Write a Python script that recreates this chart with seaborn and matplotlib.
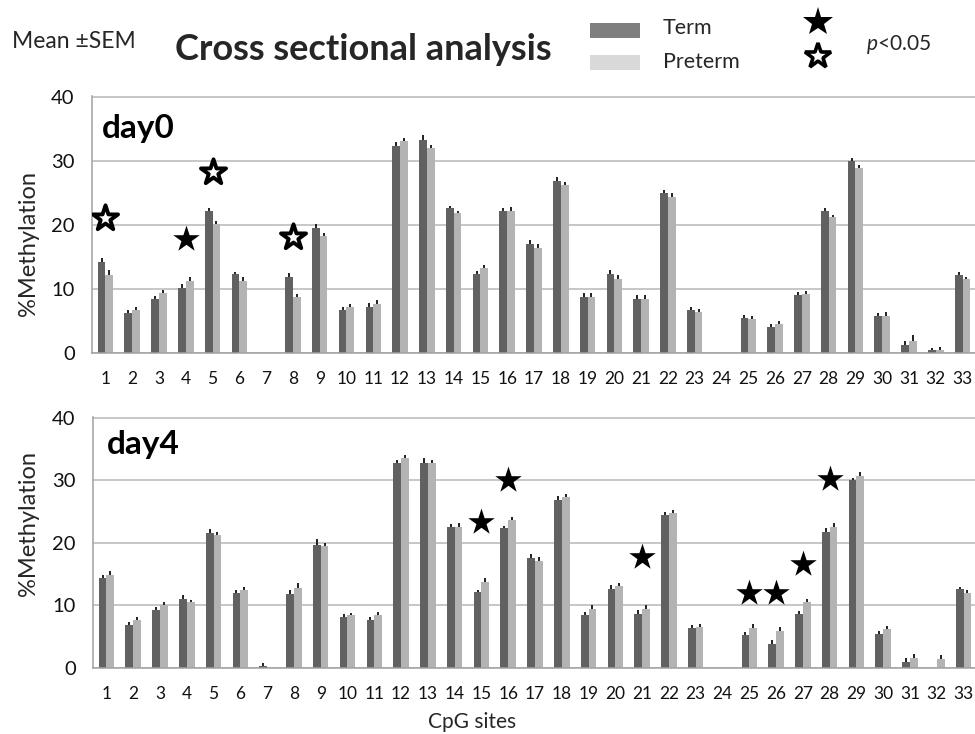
import numpy as np
import pandas as pd
import matplotlib
matplotlib.use("Agg")
import matplotlib.pyplot as plt
from matplotlib.patches import Rectangle
from matplotlib.lines import Line2D
import seaborn as sns

nan = np.nan
sites = [str(i) for i in range(1, 34)]
groups = ["Term", "Preterm"]

# Mean % methylation per CpG site (NaN = not measured)
day0_term = [14.2, 6.3, 8.4, 10.2, 22.1, 12.3, nan, 11.9, 19.5, 6.7, 7.2, 32.3, 33.3, 22.6, 12.3, 22.2, 17.0,
             26.8, 8.7, 12.4, 8.5, 25.0, 6.7, nan, 5.4, 4.1, 9.0, 22.1, 29.9, 5.8, 1.2, 0.4, 12.1]
day0_pre = [12.1, 6.7, 9.4, 11.3, 20.1, 11.3, nan, 8.7, 18.2, 7.2, 7.7, 33.1, 32.0, 21.8, 13.2, 22.2, 16.4,
            26.2, 8.7, 11.6, 8.5, 24.4, 6.4, nan, 5.3, 4.5, 9.2, 21.2, 28.9, 5.8, 1.9, 0.5, 11.5]
day4_term = [14.3, 6.9, 9.3, 11.1, 21.6, 12.0, 0.3, 11.8, 19.6, 8.1, 7.6, 32.7, 32.7, 22.6, 12.1, 22.3, 17.6,
             26.9, 8.4, 12.7, 8.7, 24.5, 6.4, nan, 5.3, 3.9, 8.6, 21.8, 30.0, 5.5, 1.0, nan, 12.6]
day4_pre = [14.8, 7.7, 10.1, 10.5, 21.3, 12.4, nan, 12.8, 19.5, 8.4, 8.4, 33.5, 32.7, 22.6, 13.8, 23.6, 17.1,
            27.3, 9.4, 13.1, 9.5, 24.7, 6.5, nan, 6.4, 5.9, 10.6, 22.6, 30.7, 6.2, 1.6, 1.4, 12.0]

# Standard error of the mean
day0_term_sem = [0.6, 0.4, 0.5, 0.5, 0.5, 0.4, nan, 0.6, 0.6, 0.5, 0.6, 0.6, 0.7, 0.4, 0.5, 0.5, 0.6,
                 0.6, 0.6, 0.6, 0.6, 0.5, 0.4, nan, 0.6, 0.5, 0.5, 0.6, 0.5, 0.5, 0.6, 0.4, 0.5]
day0_pre_sem = [0.9, 0.5, 0.5, 0.5, 0.5, 0.5, nan, 0.5, 0.5, 0.5, 0.5, 0.5, 0.4, 0.4, 0.6, 0.6, 0.6,
                0.5, 0.6, 0.6, 0.6, 0.6, 0.4, nan, 0.5, 0.5, 0.5, 0.4, 0.5, 0.6, 0.9, 0.5, 0.4]
day4_term_sem = [0.6, 0.4, 0.5, 0.5, 0.6, 0.5, 0.5, 0.7, 1.0, 0.5, 0.5, 0.5, 0.8, 0.4, 0.4, 0.4, 0.6,
                 0.5, 0.5, 0.5, 0.5, 0.4, 0.5, nan, 0.4, 0.5, 0.5, 0.5, 0.4, 0.4, 0.6, nan, 0.4]
day4_pre_sem = [0.7, 0.5, 0.5, 0.4, 0.5, 0.5, nan, 0.7, 0.4, 0.4, 0.5, 0.5, 0.6, 0.5, 0.5, 0.6, 0.6,
                0.5, 0.6, 0.5, 0.6, 0.5, 0.5, nan, 0.6, 0.6, 0.5, 0.5, 0.6, 0.5, 0.7, 0.6, 0.4]

# Significance markers (p<0.05): site and marker height
day0_filled_sites, day0_filled_y = [4], [17.8]
day0_open_sites, day0_open_y = [1, 5, 8], [21.1, 28.3, 18.1]
day4_filled_sites = [15, 16, 21, 25, 26, 27, 28]
day4_filled_y = [23.4, 30.0, 17.7, 12.0, 12.0, 16.6, 30.2]

TERM_C = "#616161"
PRE_C = "#b3b3b3"
GRID_C = "#b8b8b8"
AXIS_C = "#a0a0a0"

sns.set_style("white")
plt.rcParams["font.family"] = ["Lato", "DejaVu Sans"]
plt.rcParams["mathtext.fontset"] = "custom"
plt.rcParams["mathtext.it"] = "Lato:italic"
plt.rcParams["mathtext.rm"] = "Lato"

W, H = 975, 734
fig = plt.figure(figsize=(W / 100, H / 100), dpi=100)


def fx(px):
    return px / W


def fy(py):
    return 1 - py / H


def panel(rect, term, pre, term_sem, pre_sem, label, label_xy):
    ax = fig.add_axes(rect)
    df = pd.DataFrame({
        "site": sites * 2,
        "group": ["Term"] * len(sites) + ["Preterm"] * len(sites),
        "value": term + pre,
    })
    sns.barplot(data=df, x="site", y="value", hue="group", order=sites, hue_order=groups,
                palette=[TERM_C, PRE_C], width=0.58, errorbar=None, saturation=1,
                legend=False, linewidth=0, ax=ax)
    # upper-only SEM whiskers
    for cont, vals, sems in zip(ax.containers, [term, pre], [term_sem, pre_sem]):
        for bar in cont:
            xc = bar.get_x() + bar.get_width() / 2
            i = int(round(xc))
            if np.isnan(vals[i]) or np.isnan(sems[i]):
                continue
            ax.errorbar(xc, vals[i], yerr=[[0], [sems[i]]], fmt="none",
                        ecolor="#202020", elinewidth=1.4, capsize=0, zorder=3)
    ax.set_xlim(-0.5, len(sites) - 0.5)
    ax.set_ylim(0, 40.1)
    ax.set_yticks([0, 10, 20, 30, 40])
    ax.yaxis.grid(True, color=GRID_C, lw=1.1)
    ax.set_axisbelow(True)
    for s in ["top", "right"]:
        ax.spines[s].set_visible(False)
    for s in ["left", "bottom"]:
        ax.spines[s].set_color(AXIS_C)
        ax.spines[s].set_linewidth(1.1)
    ax.tick_params(axis="y", length=6.5, width=1.1, color=AXIS_C, labelsize=14.5,
                   labelcolor="#111111", pad=6)
    ax.set_xticks(range(len(sites)))
    ax.set_xticklabels(sites)
    ax.set_xticks(np.arange(-0.5, len(sites), 1), minor=True)
    ax.tick_params(axis="x", which="major", length=0, labelsize=12.5, labelcolor="#111111", pad=13)
    ax.tick_params(axis="x", which="minor", length=4.5, width=1.1, color=AXIS_C)
    ax.set_xlabel("")
    ax.set_ylabel("")
    ax.text(label_xy[0], label_xy[1], label, transform=ax.transAxes, fontsize=24,
            fontweight="bold", ha="left", va="center", color="black")
    return ax


ax0 = panel([fx(92), fy(353), fx(884), (353 - 96) / H], day0_term, day0_pre,
            day0_term_sem, day0_pre_sem, "day0", (0.011, 0.872))
ax1 = panel([fx(93), fy(668), fx(884), (668 - 417) / H], day4_term, day4_pre,
            day4_term_sem, day4_pre_sem, "day4", (0.016, 0.892))

# significance stars
ax0.scatter([s - 1 for s in day0_filled_sites], day0_filled_y, marker="*", s=400,
            color="black", zorder=4, linewidths=0)
ax0.scatter([s - 1 for s in day0_open_sites], day0_open_y, marker="*", s=360,
            facecolor="white", edgecolor="black", linewidths=2.8, zorder=4)
ax1.scatter([s - 1 for s in day4_filled_sites], day4_filled_y, marker="*", s=400,
            color="black", zorder=4, linewidths=0)

# axis titles
fig.text(fx(29), fy(244), "%Methylation", rotation=90, fontsize=17, ha="center", va="center")
fig.text(fx(29), fy(523), "%Methylation", rotation=90, fontsize=17, ha="center", va="center")
fig.text(fx(472), fy(722), "CpG sites", fontsize=15, ha="center", va="center")

# header
fig.text(fx(12), fy(42), "Mean \u00b1SEM", fontsize=16.5, ha="left", va="center")
fig.text(fx(175), fy(49), "Cross sectional analysis", fontsize=26, fontweight="bold",
         ha="left", va="center")
fig.add_artist(Rectangle((fx(590), fy(38)), fx(50), 15 / H, transform=fig.transFigure,
                         facecolor="#7f7f7f", edgecolor="none"))
fig.add_artist(Rectangle((fx(590), fy(70)), fx(50), 15 / H, transform=fig.transFigure,
                         facecolor="#d9d9d9", edgecolor="none"))
fig.text(fx(663), fy(28), "Term", fontsize=15.5, ha="left", va="center")
fig.text(fx(663), fy(62), "Preterm", fontsize=15.5, ha="left", va="center")
fig.add_artist(Line2D([fx(818)], [fy(22)], marker="*", markersize=22, color="black",
                      markeredgewidth=0, linestyle="none", transform=fig.transFigure))
fig.add_artist(Line2D([fx(818)], [fy(56)], marker="*", markersize=19, markerfacecolor="white",
                      markeredgecolor="black", markeredgewidth=2.6, linestyle="none",
                      transform=fig.transFigure))
fig.text(fx(866), fy(45), "$p$<0.05", fontsize=15, ha="left", va="center")

fig.savefig("out.png", dpi=100, facecolor="white")
